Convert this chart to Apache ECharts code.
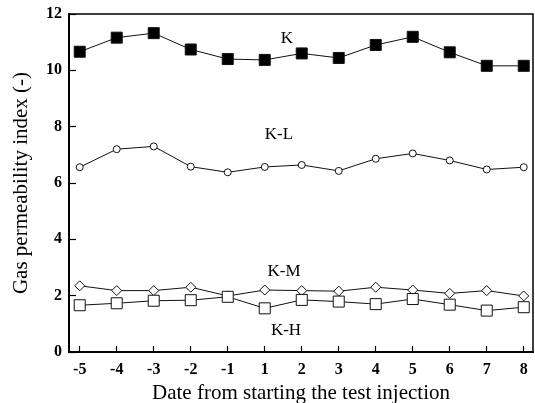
<!DOCTYPE html>
<html>
<head>
<meta charset="utf-8">
<script src="https://cdn.jsdelivr.net/npm/echarts@6/dist/echarts.min.js"></script>
<style>
  html, body { margin: 0; padding: 0; background: #fff; }
  #chart { width: 535px; height: 403px; }
</style>
</head>
<body>
<div id="chart"></div>
<script>
// data
const days = ["-5", "-4", "-3", "-2", "-1", "1", "2", "3", "4", "5", "6", "7", "8"];
const kVals = [10.66, 11.16, 11.32, 10.74, 10.40, 10.37, 10.60, 10.44, 10.90, 11.19, 10.64, 10.16, 10.16];
const klVals = [6.56, 7.20, 7.30, 6.58, 6.38, 6.57, 6.64, 6.43, 6.86, 7.05, 6.80, 6.48, 6.56];
const kmVals = [2.35, 2.18, 2.18, 2.30, 1.99, 2.20, 2.18, 2.16, 2.30, 2.20, 2.08, 2.18, 1.99];
const khVals = [1.66, 1.73, 1.82, 1.84, 1.96, 1.55, 1.85, 1.79, 1.70, 1.88, 1.68, 1.47, 1.59];

const FONT = "Liberation Serif";
const idx = days.map((d, i) => i);
const toPts = (vals) => vals.map((v, i) => [i, v]);

const chart = echarts.init(document.getElementById("chart"));

function line(name, vals, symbol, size, filled) {
  return {
    name: name,
    type: "line",
    data: toPts(vals),
    symbol: symbol,
    symbolSize: size,
    showSymbol: true,
    lineStyle: { color: "#111", width: 1 },
    itemStyle: {
      color: filled ? "#000" : "#fff",
      borderColor: "#111",
      borderWidth: 1,
    },
    z: filled ? 3 : 2,
    animation: false,
  };
}

const option = {
  animation: false,
  backgroundColor: "#fff",
  grid: {
    left: 69, right: 2, top: 14, bottom: 51,
    outerBoundsMode: "none",
    containLabel: false,
    show: true, borderColor: "#000", borderWidth: 1.5,
  },
  xAxis: {
    type: "value",
    min: -0.29,
    max: 12.25,
    name: "Date from starting the test injection",
    nameLocation: "middle",
    nameGap: 27,
    nameTextStyle: { fontFamily: FONT, fontSize: 21, color: "#000" },
    axisLine: { onZero: false, lineStyle: { color: "#000", width: 2 } },
    axisTick: { show: true, inside: true, length: 6, customValues: idx, lineStyle: { color: "#000", width: 1.2 } },
    axisLabel: {
      customValues: idx,
      formatter: (v) => days[Math.round(v)],
      fontFamily: FONT, fontSize: 16, fontWeight: "bold", color: "#000", margin: 10,
    },
    splitLine: { show: false },
  },
  yAxis: {
    type: "value",
    min: 0,
    max: 12,
    interval: 2,
    name: "Gas permeability index (-)",
    nameLocation: "middle",
    nameGap: 37,
    nameTextStyle: { fontFamily: FONT, fontSize: 21, color: "#000" },
    axisLine: { show: true, onZero: false, lineStyle: { color: "#000", width: 2 } },
    axisTick: { show: true, inside: true, length: 7, lineStyle: { color: "#000", width: 1.2 } },
    axisLabel: {
      fontFamily: FONT, fontSize: 16, fontWeight: "bold", color: "#000", margin: 7,
    },
    splitLine: { show: false },
  },
  series: [
    line("K", kVals, "rect", 11, true),
    line("K-L", klVals, "circle", 7, false),
    line("K-M", kmVals, "diamond", 10, false),
    line("K-H", khVals, "rect", 11, false),
  ],
  graphic: [
    { type: "text", x: 287, y: 39, style: { text: "K", font: "17px " + FONT, fill: "#000", align: "center", verticalAlign: "middle" } },
    { type: "text", x: 279, y: 135, style: { text: "K-L", font: "17px " + FONT, fill: "#000", align: "center", verticalAlign: "middle" } },
    { type: "text", x: 284, y: 272, style: { text: "K-M", font: "17px " + FONT, fill: "#000", align: "center", verticalAlign: "middle" } },
    { type: "text", x: 286, y: 331, style: { text: "K-H", font: "17px " + FONT, fill: "#000", align: "center", verticalAlign: "middle" } },
  ],
};

chart.setOption(option);
</script>
</body>
</html>
